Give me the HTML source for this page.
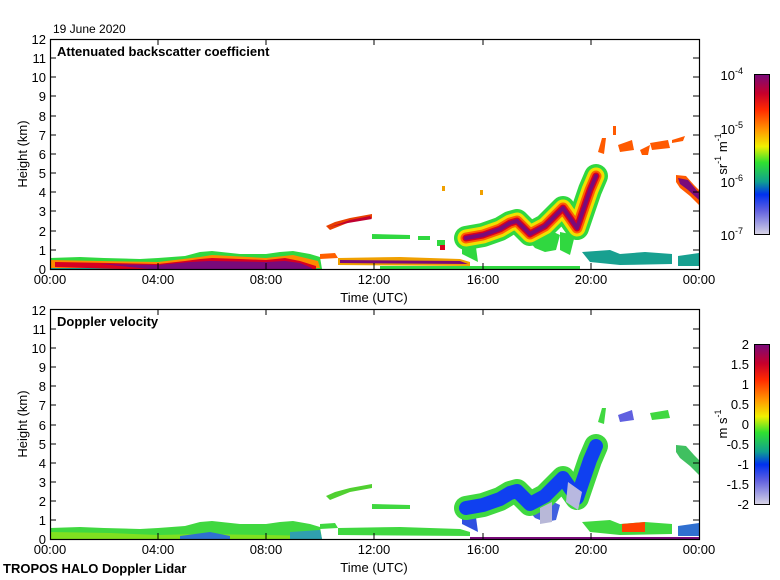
<!DOCTYPE html>
<html><head><meta charset="utf-8"><style>
html,body{margin:0;padding:0;background:#fff;}
svg{display:block;font-family:"Liberation Sans",sans-serif;}
</style></head><body>
<svg width="780" height="580" viewBox="0 0 780 580" xmlns="http://www.w3.org/2000/svg">
<defs>
<linearGradient id="cb" x1="0" y1="0" x2="0" y2="1">
<stop offset="0" stop-color="#7a0a7a"/>
<stop offset="0.12" stop-color="#c8002a"/>
<stop offset="0.22" stop-color="#ff2a00"/>
<stop offset="0.35" stop-color="#ff9a00"/>
<stop offset="0.45" stop-color="#f0f000"/>
<stop offset="0.55" stop-color="#30e030"/>
<stop offset="0.67" stop-color="#10a090"/>
<stop offset="0.75" stop-color="#0030f0"/>
<stop offset="0.85" stop-color="#6060e0"/>
<stop offset="1" stop-color="#d8d4e4"/>
</linearGradient>
<path id="ctr" d="M466,238 L483,235 L500,229 L510,223 L517,221 L530,234 L545,226 L563,208 L577,228 L590,190 L596,176" fill="none" stroke-linejoin="round" stroke-linecap="round"/>
</defs>

<text x="53" y="33" font-size="12">19 June 2020</text>

<!-- ===== TOP DATA ===== -->
<g>
<polygon points="50,258 80,257 104,258 140,259 158,258 185,256 200,252 212,251 240,254 266,254 280,252 293,251 310,254 320,257 322,269 50,269" fill="#30d840"/>
<polygon points="50,266 150,266 150,269 50,269" fill="#10a090"/>
<polygon points="50,260 100,261 158,262 200,257 212,255 266,258 293,255 318,261 320,268 50,268" fill="#ff8a00"/>
<polygon points="55,262 110,263 158,264 185,261 200,259 212,258 240,259 266,260 285,258 300,261 316,266 316,269 120,269 55,267" fill="#d80020"/>
<polygon points="100,264 158,265 190,262 210,261 266,262 285,261 300,263 312,268 312,269 150,269" fill="#7a0a7a"/>
<polygon points="320,254 335,253 338,258 320,259" fill="#ff6000"/>
<polygon points="338,258 400,257 460,259 470,262 470,266 338,265" fill="#f0a000"/>
<polygon points="340,260 460,261 468,264 340,263" fill="#7a0a7a"/>
<polygon points="380,266 470,266 470,269 380,269" fill="#30d840"/>
<polygon points="326,226 335,222 350,218 372,214 372,218 350,222 330,230" fill="#e84000"/>
<polygon points="330,227 350,220 370,216 372,219 348,223" fill="#c00030"/>
<polygon points="372,234 410,235 410,239 372,239" fill="#30d840"/>
<polygon points="418,236 430,236 430,240 418,240" fill="#30d840"/>
<polygon points="437,240 445,240 445,246 437,246" fill="#30d840"/>
<polygon points="440,245 445,245 445,250 440,250" fill="#d80020"/>
<!-- plume below structure -->
<polygon points="462,244 475,240 478,262 470,258 462,254" fill="#30d840"/>
<polygon points="525,232 545,228 560,235 556,250 545,252 535,248 528,240" fill="#30d840"/>
<polygon points="560,232 575,235 570,255 560,250" fill="#30d840"/>
<use href="#ctr" stroke="#30d840" stroke-width="24"/>
<use href="#ctr" stroke="#f0e000" stroke-width="17"/>
<use href="#ctr" stroke="#ff6000" stroke-width="11"/>
<use href="#ctr" stroke="#d80020" stroke-width="7"/>
<use href="#ctr" stroke="#7a0a7a" stroke-width="4"/>
<rect x="442" y="186" width="3" height="5" fill="#f0a000"/>
<rect x="480" y="190" width="3" height="5" fill="#f0a000"/>
<!-- high clouds -->
<polygon points="598,152 602,138 606,138 604,154" fill="#ff5a00"/>
<polygon points="613,126 616,126 616,135 613,135" fill="#ff5a00"/>
<polygon points="618,145 632,140 634,150 620,152" fill="#ff5a00"/>
<polygon points="640,150 650,145 648,155 642,155" fill="#ff5a00"/>
<polygon points="650,143 668,140 670,148 652,150" fill="#ff5a00"/>
<polygon points="672,140 685,136 683,141 672,143" fill="#ff5a00"/>
<polygon points="676,175 686,176 694,185 699,190 699,205 690,196 680,188 676,182" fill="#ff5a00"/>
<polygon points="678,178 688,180 699,193 699,200 688,190 680,184" fill="#7a0a7a"/>
<polygon points="582,252 610,250 620,254 645,252 672,254 672,264 620,265 590,262" fill="#18a090"/>
<polygon points="678,256 699,253 699,266 678,266" fill="#18a090"/>
<polygon points="470,266 580,266 580,269 470,269" fill="#30d840"/>
</g>

<!-- ===== BOTTOM DATA ===== -->
<g transform="translate(0,270)">
<polygon points="50,258 80,257 104,258 140,259 158,258 185,256 200,252 212,251 240,254 266,254 280,252 293,251 310,254 320,257 322,269 50,269" fill="#40d840"/>
<polygon points="50,262 110,263 158,265 200,264 266,265 320,266 320,269 50,269" fill="#80e020"/>
<polygon points="180,266 210,262 230,266 230,269 180,269" fill="#3070d0"/>
<polygon points="290,262 320,260 322,269 290,269" fill="#30a0b0"/>
<polygon points="320,254 335,253 338,258 320,259" fill="#40d840"/>
<polygon points="338,258 400,257 460,259 470,262 470,266 338,265" fill="#40d840"/>
<polygon points="326,226 335,222 350,218 372,214 372,218 350,222 330,230" fill="#50d030"/>
<polygon points="372,234 410,235 410,239 372,239" fill="#40d840"/>
<polygon points="462,244 475,240 478,262 470,258 462,254" fill="#3050e0"/>
<polygon points="525,232 545,228 560,235 556,250 545,252 535,248 528,240" fill="#4060e0"/>
<use href="#ctr" stroke="#40d840" stroke-width="24"/>
<use href="#ctr" stroke="#1040f0" stroke-width="14"/>
<polygon points="568,212 582,222 578,240 566,232" fill="#b8b8e0"/>
<polygon points="540,238 552,232 552,252 540,254" fill="#b8b8d8"/>
<polygon points="598,152 602,138 606,138 604,154" fill="#40d840"/>
<polygon points="650,143 668,140 670,148 652,150" fill="#40d840"/>
<polygon points="618,145 632,140 634,150 620,152" fill="#6060e0"/>
<polygon points="676,175 686,176 694,185 699,190 699,205 690,196 680,188 676,182" fill="#40c060"/>
<polygon points="582,252 610,250 620,254 645,252 672,254 672,264 620,265 590,262" fill="#40d840"/>
<polygon points="622,254 645,252 645,262 622,262" fill="#ff4000"/>
<polygon points="678,256 699,253 699,266 678,266" fill="#3070d0"/>
<polygon points="470,267 699,267 699,269 470,269" fill="#7a0a7a"/>
</g>

<!-- ===== AXES ===== -->
<g stroke="#000" stroke-width="1.2" fill="none">
<rect x="50.5" y="39.5" width="649" height="230"/>
<rect x="50.5" y="309.5" width="649" height="230"/>
</g>
<g stroke="#000" stroke-width="1">
<path d="M158,39v6M266,39v6M374,39v6M483,39v6M591,39v6
M158,269v-6M266,269v-6M374,269v-6M483,269v-6M591,269v-6
M158,309v6M266,309v6M374,309v6M483,309v6M591,309v6
M158,539v-6M266,539v-6M374,539v-6M483,539v-6M591,539v-6
M50,250h6M50,231h6M50,211h6M50,192h6M50,173h6M50,154h6M50,135h6M50,116h6M50,96h6M50,77h6M50,58h6
M699,250h-6M699,231h-6M699,211h-6M699,192h-6M699,173h-6M699,154h-6M699,135h-6M699,116h-6M699,96h-6M699,77h-6M699,58h-6
M50,520h6M50,501h6M50,482h6M50,463h6M50,444h6M50,425h6M50,405h6M50,386h6M50,367h6M50,348h6M50,329h6
M699,520h-6M699,501h-6M699,482h-6M699,463h-6M699,444h-6M699,425h-6M699,405h-6M699,386h-6M699,367h-6M699,348h-6M699,329h-6"/>
</g>

<g font-size="13" text-anchor="end">
<text x="46" y="274">0</text><text x="46" y="255">1</text><text x="46" y="236">2</text><text x="46" y="216">3</text><text x="46" y="197">4</text><text x="46" y="178">5</text><text x="46" y="159">6</text><text x="46" y="140">7</text><text x="46" y="121">8</text><text x="46" y="101">9</text><text x="46" y="82">10</text><text x="46" y="63">11</text><text x="46" y="44">12</text>
<text x="46" y="544">0</text><text x="46" y="525">1</text><text x="46" y="506">2</text><text x="46" y="487">3</text><text x="46" y="468">4</text><text x="46" y="449">5</text><text x="46" y="430">6</text><text x="46" y="410">7</text><text x="46" y="391">8</text><text x="46" y="372">9</text><text x="46" y="353">10</text><text x="46" y="334">11</text><text x="46" y="315">12</text>
</g>
<g font-size="13" text-anchor="middle">
<text x="50" y="284">00:00</text><text x="158" y="284">04:00</text><text x="266" y="284">08:00</text><text x="374" y="284">12:00</text><text x="483" y="284">16:00</text><text x="591" y="284">20:00</text><text x="699" y="284">00:00</text>
<text x="50" y="554">00:00</text><text x="158" y="554">04:00</text><text x="266" y="554">08:00</text><text x="374" y="554">12:00</text><text x="483" y="554">16:00</text><text x="591" y="554">20:00</text><text x="699" y="554">00:00</text>
<text x="374" y="302">Time (UTC)</text>
<text x="374" y="572">Time (UTC)</text>
<text transform="translate(27,154) rotate(-90)">Height (km)</text>
<text transform="translate(27,424) rotate(-90)">Height (km)</text>
</g>
<text x="57" y="56" font-size="13" font-weight="bold">Attenuated backscatter coefficient</text>
<text x="57" y="326" font-size="13" font-weight="bold">Doppler velocity</text>
<text x="3" y="573" font-size="13" font-weight="bold">TROPOS HALO Doppler Lidar</text>

<rect x="754.5" y="74.5" width="15" height="160" fill="url(#cb)" stroke="#000"/>
<rect x="754.5" y="344.5" width="15" height="160" fill="url(#cb)" stroke="#000"/>
<g font-size="13" text-anchor="end">
<text x="743" y="80">10<tspan font-size="9" dy="-6">-4</tspan></text>
<text x="743" y="134">10<tspan font-size="9" dy="-6">-5</tspan></text>
<text x="743" y="187">10<tspan font-size="9" dy="-6">-6</tspan></text>
<text x="743" y="240">10<tspan font-size="9" dy="-6">-7</tspan></text>
<text x="749" y="349">2</text><text x="749" y="369">1.5</text><text x="749" y="389">1</text><text x="749" y="409">0.5</text><text x="749" y="429">0</text><text x="749" y="449">-0.5</text><text x="749" y="469">-1</text><text x="749" y="489">-1.5</text><text x="749" y="509">-2</text>
</g>
<text transform="translate(727,154) rotate(-90)" font-size="13" text-anchor="middle">sr<tspan font-size="9" dy="-6">-1</tspan><tspan dy="6"> m</tspan><tspan font-size="9" dy="-6">-1</tspan></text>
<text transform="translate(727,424) rotate(-90)" font-size="13" text-anchor="middle">m s<tspan font-size="9" dy="-6">-1</tspan></text>
</svg>
</body></html>
